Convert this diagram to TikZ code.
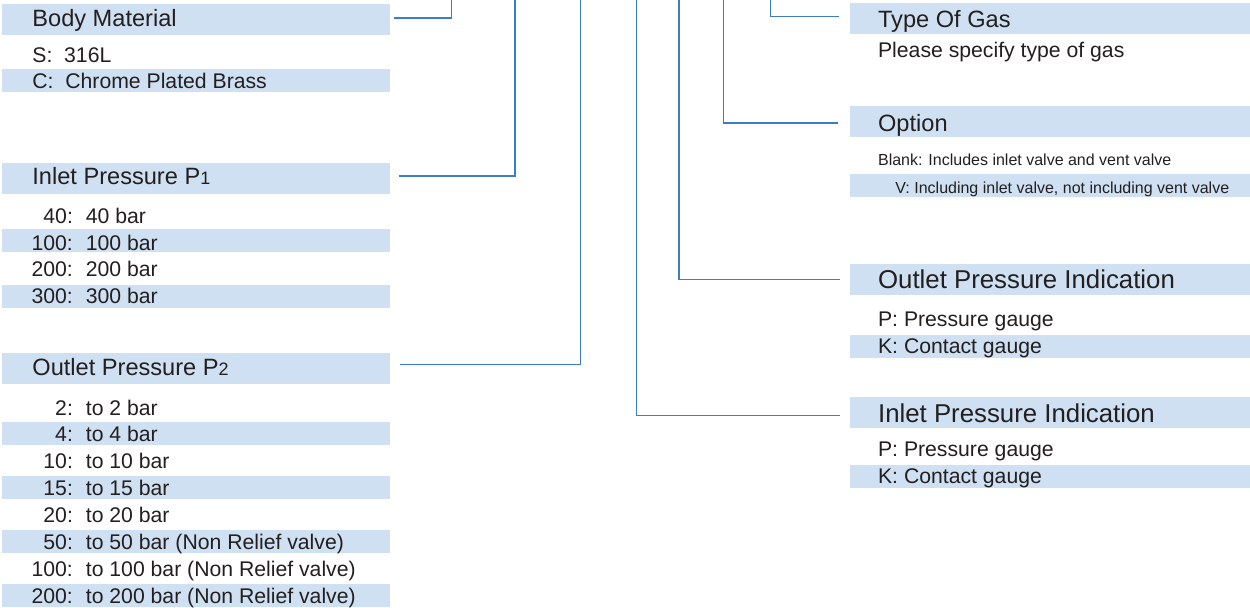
\documentclass[tikz,border=0pt]{standalone}
\usepackage{fontspec}
\setmainfont{Liberation Sans}
\usetikzlibrary{positioning}
\definecolor{specband}{RGB}{206,224,241}
\definecolor{speclink}{RGB}{61,125,200}
\definecolor{spectext}{RGB}{35,31,32}

\begin{document}
\begin{tikzpicture}[x=0.5pt, y=-0.5pt,
  bandhead/.style={fill=specband, inner sep=0pt, minimum height=15.2pt},
  headtxt/.style={spectext, inner sep=0pt, anchor=base west, font=\fontsize{11.8pt}{14pt}\selectfont},
  indtxt/.style={spectext, inner sep=0pt, anchor=base west, font=\fontsize{12.9pt}{15pt}\selectfont},
  itemtxt/.style={spectext, inner sep=0pt, font=\fontsize{10.6pt}{12pt}\selectfont},
  smalltxt/.style={spectext, inner sep=0pt, anchor=base west, font=\fontsize{8pt}{10pt}\selectfont},
  link/.style={speclink, line width=0.65pt}]
\useasboundingbox (0,0) rectangle (1250,607);

% ---- left column ----
\node[bandhead, minimum width=194pt] (bodyband) at (196,19.35) {};
\node[headtxt] (bodytitle) at (32,26.7) {Body Material};
\fill[specband] (2,69.3) rectangle (390,91.7);
\node[itemtxt, anchor=base west] (bodys) at (32,62.7) {S:\ \ 316L};
\node[itemtxt, anchor=base west] (bodyc) at (32,88.7) {C:\ \ Chrome Plated Brass};

\node[bandhead, minimum width=194pt] (inband) at (196,178.5) {};
\node[headtxt] (intitle) at (32,184.3) {Inlet Pressure P{\fontsize{9pt}{10pt}\selectfont 1}};
\fill[specband] (2,229.3) rectangle (390,251.7);
\fill[specband] (2,285.3) rectangle (390,307.7);
\foreach \k/\v [count=\i from 0] in {40/40 bar, 100/100 bar, 200/200 bar, 300/300 bar}{
  \node[itemtxt, anchor=base east] (inkey\i) at (73.3,223.3+26.7*\i) {\k:};
  \node[itemtxt, anchor=base west] (inval\i) at (85.5,223.3+26.7*\i) {\v};
}

\node[bandhead, minimum width=194pt] (outband) at (196,368.5) {};
\node[headtxt] (outtitle) at (32,375.7) {Outlet Pressure P{\fontsize{9pt}{10pt}\selectfont 2}};
\foreach \yy in {422.3,476.3,530.3,584.3}{\fill[specband] (2,\yy) rectangle (390,\yy+22.4);}
\foreach \k/\v [count=\i from 0] in {2/to 2 bar, 4/to 4 bar, 10/to 10 bar, 15/to 15 bar,
    20/to 20 bar, 50/to 50 bar (Non Relief valve), 100/to 100 bar (Non Relief valve),
    200/to 200 bar (Non Relief valve)}{
  \node[itemtxt, anchor=base east] (outkey\i) at (73.3,415+26.9*\i) {\k:};
  \node[itemtxt, anchor=base west] (outval\i) at (85.5,415+26.9*\i) {\v};
}

% ---- right column ----
\node[bandhead, minimum width=200pt] (gasband) at (1050,18.5) {};
\node[headtxt] (gastitle) at (877.7,27.5) {Type Of Gas};
\node[itemtxt, anchor=base west] (gasnote) at (877.7,57.5) {Please specify type of gas};

\node[bandhead, minimum width=200pt] (optband) at (1050,121.5) {};
\node[headtxt] (opttitle) at (877.7,131) {Option};
\fill[specband] (850,174) rectangle (1250,196.7);
\node[smalltxt] (optblank) at (877.7,165.7) {Blank: Includes inlet valve and vent valve};
\node[smalltxt] (optv) at (895,193.3) {V: Including inlet valve, not including vent valve};

\node[bandhead, minimum width=200pt] (oindband) at (1050,279.35) {};
\node[indtxt] (oindtitle) at (877.7,288.7) {Outlet Pressure Indication};
\fill[specband] (850,335.3) rectangle (1250,357.7);
\node[itemtxt, anchor=base west] (oindp) at (877.7,326) {P: Pressure gauge};
\node[itemtxt, anchor=base west] (oindk) at (877.7,353) {K: Contact gauge};

\node[bandhead, minimum width=200pt] (iindband) at (1050,412.5) {};
\node[indtxt] (iindtitle) at (877.7,422) {Inlet Pressure Indication};
\fill[specband] (850,465.3) rectangle (1250,487.7);
\node[itemtxt, anchor=base west] (iindp) at (877.7,456) {P: Pressure gauge};
\node[itemtxt, anchor=base west] (iindk) at (877.7,483) {K: Contact gauge};

% ---- leader lines to the code ----
\coordinate (bodytop) at (451.7,0);
\coordinate (intop) at (515,0);
\coordinate (outtop) at (580.3,0);
\coordinate (iindtop) at (636.3,0);
\coordinate (oindtop) at (679,0);
\coordinate (opttop) at (723.7,0);
\coordinate (gastop) at (770.3,0);
\draw[link] ([xshift=2pt,yshift=0.7pt]bodyband.east) -| (bodytop);
\draw[link] ([xshift=4.5pt,yshift=1.25pt]inband.east) -| (intop);
\draw[link] ([xshift=5pt,yshift=2.1pt]outband.east) -| (outtop);
\draw[link] ([xshift=-5.35pt,yshift=0.9pt]gasband.west) -| (gastop);
\draw[link] ([xshift=-5.85pt,yshift=-0.75pt]optband.west) -| (opttop);
\draw[link] ([xshift=-4.65pt]oindband.west) -| (oindtop);
\draw[link] ([xshift=-4.65pt,yshift=-1.4pt]iindband.west) -| (iindtop);
\end{tikzpicture}
\end{document}
